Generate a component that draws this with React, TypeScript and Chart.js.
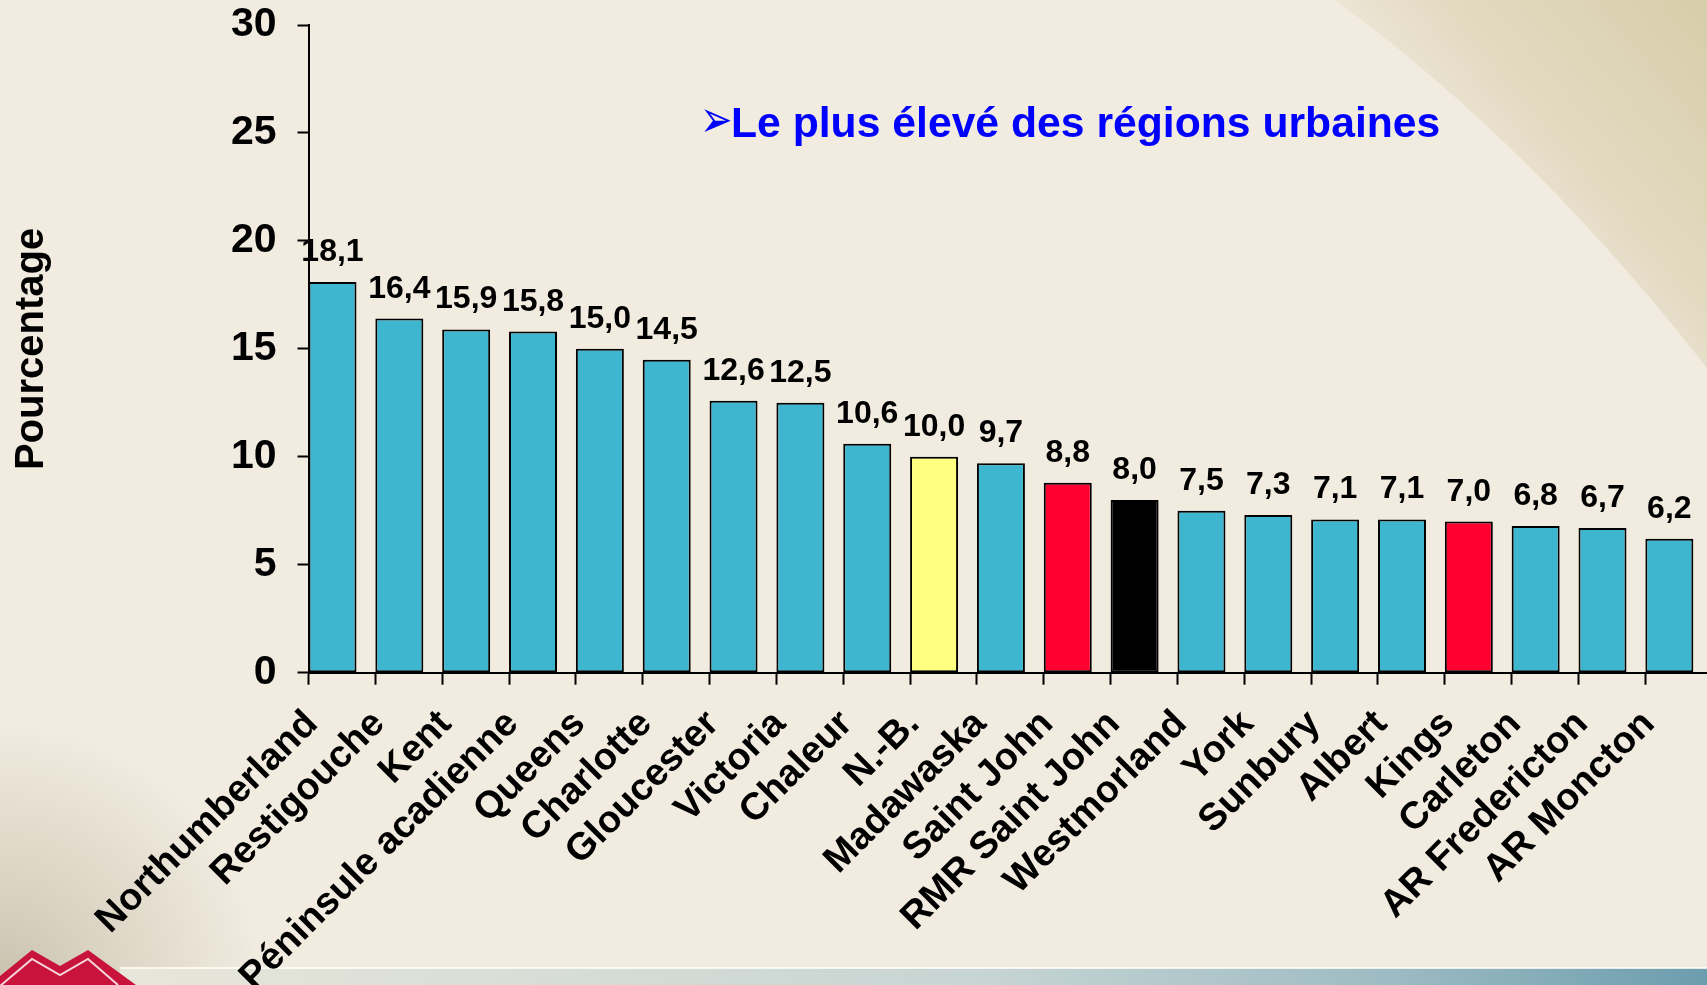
import React, { useEffect, useRef } from 'react';
import { Chart, registerables } from 'chart.js';

Chart.register(...registerables);

// ---- data ----
const categories: string[] = [
  'Northumberland', 'Restigouche', 'Kent', 'Péninsule acadienne', 'Queens', 'Charlotte',
  'Gloucester', 'Victoria', 'Chaleur', 'N.-B.', 'Madawaska', 'Saint John', 'RMR Saint John',
  'Westmorland', 'York', 'Sunbury', 'Albert', 'Kings', 'Carleton', 'AR Fredericton', 'AR Moncton',
];
const values: number[] = [
  18.1, 16.4, 15.9, 15.8, 15.0, 14.5, 12.6, 12.5, 10.6, 10.0, 9.7, 8.8, 8.0, 7.5, 7.3, 7.1, 7.1,
  7.0, 6.8, 6.7, 6.2,
];
const yTicks: number[] = [0, 5, 10, 15, 20, 25, 30];
const yTitle = 'Pourcentage';
const noteArrow = '➢';
const noteText = 'Le plus élevé des régions urbaines';

// ---- styles ----
const TEAL = '#3FB6CF';
const highlight: Record<string, string> = {
  'N.-B.': '#FFFF80',
  'Saint John': '#FF0030',
  'RMR Saint John': '#000000',
  Kings: '#FF0030',
};
const FONT = '"Liberation Sans", Arial, Helvetica, sans-serif';

const fmt = (v: number) => v.toFixed(1).replace('.', ',');

const backgroundPlugin = {
  id: 'bgDecor',
  beforeDraw(chart: any) {
    const ctx = chart.ctx as CanvasRenderingContext2D;
    const W = chart.width;
    const H = chart.height;
    ctx.save();
    ctx.fillStyle = '#F1EBE0';
    ctx.fillRect(0, 0, W, H);

    // top-right shaded swoosh
    ctx.beginPath();
    ctx.moveTo(1335, 0);
    ctx.quadraticCurveTo(1540, 150, W, 385);
    ctx.lineTo(W, 0);
    ctx.closePath();
    const g = ctx.createLinearGradient(1470, 200, 1707, 0);
    g.addColorStop(0, '#EEE8DA');
    g.addColorStop(0.35, '#E3DAC2');
    g.addColorStop(1, '#D8CDA9');
    ctx.fillStyle = g;
    ctx.fill();

    // bottom-left soft shade
    const rg = ctx.createRadialGradient(0, H, 10, 0, H, 260);
    rg.addColorStop(0, 'rgba(185,178,155,0.7)');
    rg.addColorStop(0.6, 'rgba(200,192,170,0.35)');
    rg.addColorStop(1, 'rgba(200,192,170,0)');
    ctx.fillStyle = rg;
    ctx.fillRect(0, H - 280, 300, 280);

    // bottom strip
    const sg = ctx.createLinearGradient(120, 0, 1707, 0);
    sg.addColorStop(0, '#E8E6DA');
    sg.addColorStop(0.55, '#C6D4D3');
    sg.addColorStop(0.8, '#9DBBC3');
    sg.addColorStop(1, '#6C9DAE');
    ctx.fillStyle = sg;
    ctx.fillRect(120, H - 17, W - 120, 17);
    ctx.fillStyle = 'rgba(255,255,248,0.8)';
    ctx.fillRect(120, H - 18, W - 120, 2);

    // logo
    ctx.beginPath();
    ctx.moveTo(0, 976);
    ctx.lineTo(32, 950);
    ctx.lineTo(60, 966);
    ctx.lineTo(88, 950);
    ctx.lineTo(136, H);
    ctx.lineTo(0, H);
    ctx.closePath();
    ctx.fillStyle = '#C8143C';
    ctx.fill();
    ctx.beginPath();
    ctx.moveTo(0, 986);
    ctx.lineTo(32, 959);
    ctx.lineTo(60, 975);
    ctx.lineTo(88, 959);
    ctx.lineTo(118, H);
    ctx.strokeStyle = '#F4D6DA';
    ctx.lineWidth = 2;
    ctx.stroke();
    ctx.restore();
  },
};

const valueLabelPlugin = {
  id: 'valueLabels',
  afterDatasetsDraw(chart: any) {
    const ctx = chart.ctx as CanvasRenderingContext2D;
    const meta = chart.getDatasetMeta(0);
    ctx.save();
    ctx.font = `bold 32px ${FONT}`;
    ctx.fillStyle = '#000';
    ctx.textAlign = 'center';
    ctx.textBaseline = 'alphabetic';
    meta.data.forEach((el: any, i: number) => {
      ctx.fillText(fmt(values[i]), el.x, el.y - 21);
    });
    ctx.restore();
  },
};

const notePlugin = {
  id: 'note',
  afterDraw(chart: any) {
    const ctx = chart.ctx as CanvasRenderingContext2D;
    ctx.save();
    ctx.fillStyle = '#0000FF';
    ctx.textAlign = 'left';
    ctx.save();
    ctx.translate(700, 123);
    ctx.scale(1, 1.34);
    ctx.textBaseline = 'middle';
    ctx.font = `bold 39px "DejaVu Sans", sans-serif`;
    ctx.fillText(noteArrow, 0, 0);
    ctx.restore();
    ctx.textBaseline = 'alphabetic';
    ctx.font = `bold 42.7px ${FONT}`;
    ctx.fillText(noteText, 731, 137);
    ctx.restore();
  },
};

export default function App() {
  const ref = useRef<HTMLCanvasElement | null>(null);

  useEffect(() => {
    document.body.style.margin = '0';
    const canvas = ref.current;
    if (!canvas) return;
    const barColors = categories.map((c) => highlight[c] ?? TEAL);
    const catPct = 0.564;
    const barPct = 2.546;
    const chart = new Chart(canvas, {
      type: 'bar',
      data: {
        labels: categories,
        datasets: [
          {
            data: values,
            backgroundColor: barColors,
            borderColor: '#000000',
            borderWidth: 2,
            borderSkipped: false,
            categoryPercentage: catPct,
            barPercentage: barPct,
          },
          {
            data: categories.map(() => null),
            categoryPercentage: catPct,
            barPercentage: barPct,
          },
        ],
      },
      options: {
        animation: false,
        responsive: false,
        devicePixelRatio: 1,
        layout: { padding: { top: 25, right: 7.8, left: 0, bottom: 0 } },
        plugins: {
          legend: { display: false },
          tooltip: { enabled: false },
        },
        scales: {
          x: {
            offset: true,
            grid: {
              offset: true,
              drawOnChartArea: false,
              drawTicks: true,
              tickLength: 12,
              tickColor: '#000',
              tickWidth: 2,
            },
            border: { display: true, color: '#000', width: 2 },
            ticks: {
              autoSkip: false,
              maxRotation: 45,
              minRotation: 45,
              color: '#000',
              font: { family: FONT, weight: 'bold', size: 38 },
              padding: 17,
              labelOffset: -30,
            },
            afterFit: (s: any) => {
              s.height = 312.3;
              s.paddingLeft = 0;
              s.paddingRight = 0;
            },
          },
          y: {
            min: yTicks[0],
            max: yTicks[yTicks.length - 1],
            ticks: {
              stepSize: yTicks[1] - yTicks[0],
              color: '#000',
              font: { family: FONT, weight: 'bold', size: 41 },
              padding: 21,
            },
            grid: {
              drawOnChartArea: false,
              drawTicks: true,
              tickLength: 11,
              tickColor: '#000',
              tickWidth: 2,
            },
            border: { display: true, color: '#000', width: 2 },
            title: {
              display: true,
              text: yTitle,
              color: '#000',
              font: { family: FONT, weight: 'bold', size: 40 },
              padding: { top: 8, bottom: 0 },
            },
            afterFit: (s: any) => {
              s.width = 308.5;
              s.paddingTop = 0;
              s.paddingBottom = 0;
            },
          },
        },
      } as any,
      plugins: [backgroundPlugin, valueLabelPlugin, notePlugin],
    });
    return () => chart.destroy();
  }, []);

  return (
    <div
      style={{
        position: 'fixed',
        left: 0,
        top: 0,
        width: 1707,
        height: 985,
        overflow: 'hidden',
        background: '#F1EBE0',
      }}
    >
      <canvas ref={ref} width={1720} height={985} style={{ display: 'block' }} />
    </div>
  );
}
